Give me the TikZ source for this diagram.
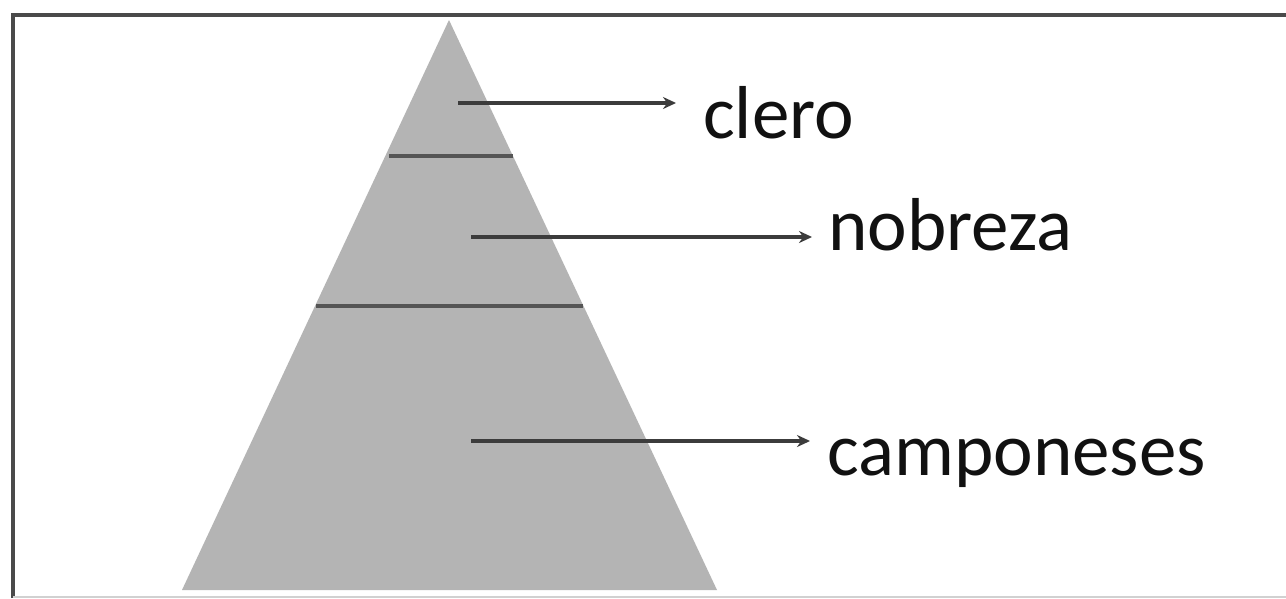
\documentclass[tikz,border=0pt]{standalone}
\usepackage{fontspec}
\setmainfont{Carlito}
\usetikzlibrary{arrows.meta}
\definecolor{pyr}{HTML}{B4B4B4}
\definecolor{divc}{HTML}{555555}
\definecolor{arrc}{HTML}{3C3C3C}
\definecolor{framec}{HTML}{4A4A4A}
\definecolor{txtc}{HTML}{111111}
\tikzset{
  divline/.style={draw=divc,line width=4pt},
  pointer/.style={draw=arrc,line width=3.5pt,-{Stealth[length=13pt,width=12pt]}},
  lbl/.style={anchor=base west,inner sep=0pt,text=txtc,font=\fontsize{75}{88}\selectfont},
  framel/.style={draw=framec,line width=3.5pt}
}
\begin{document}
\begin{tikzpicture}[x=1pt,y=-1pt]
\useasboundingbox (0,0) rectangle (1286,598);
\fill[white] (0,0) rectangle (1286,598);
% frame
\coordinate (fbl) at (13,598);
\coordinate (ftl) at (13,15);
\coordinate (ftr) at (1286,15);
\draw[framel] (fbl) -- (ftl) -- (ftr);
\draw[draw=black!18,line width=1.5pt] (13,597) -- (1286,597);
% pyramid
\coordinate (apex) at (449,20);
\coordinate (bl) at (182,590);
\coordinate (br) at (717,590);
\fill[pyr] (apex) -- (br) -- (bl) -- cycle;
\coordinate (d1l) at (389,156);
\coordinate (d1r) at (513,156);
\coordinate (d2l) at (316,306);
\coordinate (d2r) at (583,306);
\draw[divline] (d1l) -- (d1r);
\draw[divline] (d2l) -- (d2r);
% labels
\node[lbl] (clero) at (703,138) {clero};
\node[lbl] (nobreza) at (828,250) {nobreza};
\node[lbl] (camp) at (827,475) {camponeses};
% arrows
\coordinate (a1s) at (458,103);
\coordinate (a1e) at (676,103);
\coordinate (a2s) at (471,237);
\coordinate (a2e) at (812,237);
\coordinate (a3s) at (471,441);
\coordinate (a3e) at (810,441);
\draw[pointer] (a1s) -- (a1e);
\draw[pointer] (a2s) -- (a2e);
\draw[pointer] (a3s) -- (a3e);
\end{tikzpicture}
\end{document}
